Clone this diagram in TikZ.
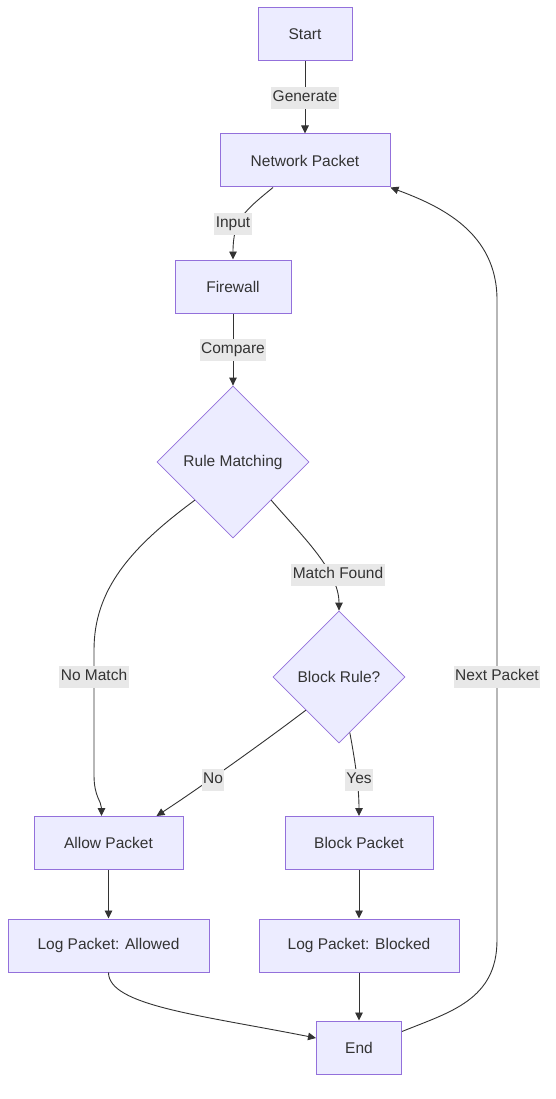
\documentclass[tikz,border=0pt]{standalone}
\usepackage{fontspec}
\setmainfont{Liberation Sans}
\usetikzlibrary{shapes.geometric,arrows.meta}
\definecolor{nodefill}{HTML}{ECECFF}
\definecolor{nodeline}{HTML}{9370DB}
\definecolor{edgecol}{HTML}{333333}
\definecolor{lblbg}{HTML}{E8E8E8}
\begin{document}
\begin{tikzpicture}[x=1pt,y=-1pt,
  every node/.style={font=\fontsize{15.5pt}{18pt}\selectfont, text=edgecol},
  box/.style={draw=nodeline, fill=nodefill, line width=1pt, minimum height=53pt, inner sep=0pt},
  dia/.style={diamond, aspect=1, draw=nodeline, fill=nodefill, line width=0.8pt, inner sep=0pt},
  edge/.style={draw=edgecol, line width=0.9pt, -{Triangle[length=8pt,width=7.5pt]}},
  lbl/.style={fill=lblbg, inner xsep=1.5pt, inner ysep=4pt, text height=11pt, text depth=3.5pt}
]
\useasboundingbox (0,0) rectangle (556,1099);
\fill[white] (0,0) rectangle (556,1099);

\node[box, minimum width=94pt]  (start) at (305,34.5)   {Start};
\node[box, minimum width=170pt] (net)   at (305,160.5)  {Network Packet};
\node[box, minimum width=116pt] (fw)    at (233,286.5)  {Firewall};
\node[dia, minimum size=152pt]  (rm)    at (233,462)    {Rule Matching};
\node[dia, minimum size=132pt]  (br)    at (339,677)    {Block Rule?};
\node[box, minimum width=149pt] (allow) at (108.5,843)  {Allow Packet};
\node[box, minimum width=148pt] (block) at (359,843)    {Block Packet};
\node[box, minimum width=201pt] (loga)  at (108.5,945.5){Log Packet: Allowed};
\node[box, minimum width=200pt] (logb)  at (359,945.5)  {Log Packet: Blocked};
\node[box, minimum width=85pt]  (end)   at (359,1047.5) {End};

\coordinate (nm1) at (94,650);
\coordinate (nm2) at (94,775);
\coordinate (np1) at (497,940);
\coordinate (np2) at (497,300);

% Start -> Network Packet
\draw[edge] (start.south) -- (net.north) node[lbl] at (305,98) {Generate};
% Network Packet -> Firewall
\draw[edge] ([xshift=-32pt]net.south) .. controls +(-28,23) and +(0,-40) .. (fw.north)
  node[lbl] at (233,224) {Input};
% Firewall -> Rule Matching
\draw[edge] (fw.south) -- (rm.north) node[lbl] at (233,350) {Compare};
% Rule Matching -> Block Rule?
\draw[edge] (rm.-45) .. controls +(30,35) and +(0,-40) .. (br.north)
  node[lbl] at (338,575) {Match Found};
% Rule Matching -> Allow Packet
\draw[edge] (rm.-135) .. controls (130,548) and (94,590) .. (nm1) -- (nm2)
  .. controls +(0,22) and +(0,-15) .. ([xshift=-7pt]allow.north)
  node[lbl] at (94,677) {No Match};
% Block Rule? -> Allow Packet
\draw[edge] (br.-135) .. controls +(-46,35) and +(34,-22) .. ([xshift=48pt]allow.north)
  node[lbl] at (213,780) {No};
% Block Rule? -> Block Packet
\draw[edge] (br.-79) .. controls +(6,32) and +(0,-27) .. (block.north)
  node[lbl] at (359,780) {Yes};
% Allow -> Log Allowed
\draw[edge] (allow.south) -- (loga.north);
% Block -> Log Blocked
\draw[edge] (block.south) -- (logb.north);
% Log Allowed -> End
\draw[edge] (loga.south) .. controls +(0,33) and (200,1015) .. ([yshift=9.5pt]end.west);
% Log Blocked -> End
\draw[edge] (logb.south) -- (end.north);
% End -> Network Packet
\draw[edge] ([yshift=16pt]end.east) .. controls (450,1012) and (497,1000) .. (np1) -- (np2)
  .. controls (497,232) and (440,206) .. (net.south east)
  node[lbl] at (497,677) {Next Packet};
\end{tikzpicture}
\end{document}
